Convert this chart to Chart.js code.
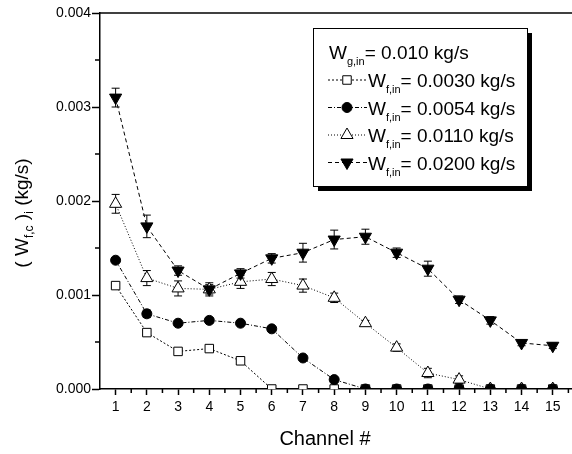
<!DOCTYPE html>
<html>
<head>
<meta charset="utf-8">
<script src="https://cdn.jsdelivr.net/npm/chart.js@4.4.0/dist/chart.umd.min.js"></script>
<style>
  html, body { margin: 0; padding: 0; background: #fff; overflow: hidden; }
  #wrap { width: 592px; height: 454px; }
</style>
</head>
<body>
<div id="wrap"><canvas id="chart" width="592" height="454"></canvas></div>
<script>
// channel numbers and axis ticks
const channels = [1, 2, 3, 4, 5, 6, 7, 8, 9, 10, 11, 12, 13, 14, 15];
const yTicks = [0, 0.001, 0.002, 0.003, 0.004];

// legend text
const inletGasLabel = "0.010 kg/s";
const feedLabels = ["0.0030 kg/s", "0.0054 kg/s", "0.0110 kg/s", "0.0200 kg/s"];

// series values (kg/s) and error bars
const feed0030 = [0.0011, 0.0006, 0.0004, 0.00043, 0.0003, 0, 0, 0, 0, 0, 0, 0, 0, 0, 0];
const feed0030Err = [0.00002, 0.00002, 0.00003, 0.00003, 0.00004, 0, 0, 0, 0, 0, 0, 0, 0, 0, 0];

const feed0054 = [0.00137, 0.0008, 0.0007, 0.00073, 0.0007, 0.00064, 0.00033, 0.0001, 0, 0, 0, 0, 0, 0, 0];
const feed0054Err = [0.00002, 0.00004, 0.00002, 0.00003, 0.00002, 0.00002, 0.00002, 0.00002, 0, 0, 0, 0, 0, 0, 0];

const feed0110 = [0.00197, 0.00118, 0.00107, 0.00106, 0.00114, 0.00117, 0.0011, 0.00097, 0.0007, 0.00044, 0.00017, 0.0001, 0, 0, 0];
const feed0110Err = [0.0001, 0.00008, 0.00008, 0.00005, 0.00007, 0.00007, 0.00007, 0.00005, 0.00003, 0.00004, 0.00005, 0.00004, 0, 0, 0];

const feed0200 = [0.0031, 0.00173, 0.00126, 0.00106, 0.00123, 0.00139, 0.00145, 0.00159, 0.00162, 0.00145, 0.00128, 0.00095, 0.00073, 0.00049, 0.00046];
const feed0200Err = [0.0001, 0.00012, 0.00005, 0.00007, 0.00005, 0.00005, 0.0001, 0.0001, 0.00008, 0.00005, 0.00008, 0.00004, 0.00004, 0.00003, 0.00003];

const FONT = "Arial, 'Liberation Sans', sans-serif";

// marker / line look for each series
const styles = [
  { marker: "rect",     fill: "#fff", radius: 6, dash: [2, 2],       order: 3 },
  { marker: "circle",   fill: "#000", radius: 5, dash: [4, 2, 1, 2], order: 1 },
  { marker: "triangle", fill: "#fff", radius: 7, dash: [1, 2],       order: 2 },
  { marker: "triDown",  fill: "#000", radius: 7, dash: [4, 3],       order: 0 }
];
const values = [feed0030, feed0054, feed0110, feed0200];
const errors = [feed0030Err, feed0054Err, feed0110Err, feed0200Err];

const datasets = values.map((vals, k) => ({
  label: feedLabels[k],
  data: channels.map((c, i) => ({ x: c, y: vals[i] })),
  borderColor: "#000",
  borderWidth: 1,
  borderDash: styles[k].dash,
  pointStyle: styles[k].marker === "triDown" ? "triangle" : styles[k].marker,
  pointRotation: styles[k].marker === "triDown" ? 180 : 0,
  pointRadius: styles[k].radius,
  pointBackgroundColor: styles[k].fill,
  pointBorderColor: "#000",
  pointBorderWidth: 1,
  order: styles[k].order,
  tension: 0
}));

function drawMarker(ctx, style, x, y) {
  const r = style.radius;
  ctx.save();
  ctx.setLineDash([]);
  ctx.lineWidth = 1;
  ctx.strokeStyle = "#000";
  ctx.fillStyle = style.fill;
  ctx.beginPath();
  if (style.marker === "rect") {
    const h = r * Math.SQRT1_2;
    ctx.rect(x - h, y - h, 2 * h, 2 * h);
  } else if (style.marker === "circle") {
    ctx.arc(x, y, r, 0, Math.PI * 2);
  } else {
    const s = style.marker === "triDown" ? -1 : 1;
    ctx.moveTo(x, y - s * r);
    ctx.lineTo(x + r * 0.866, y + s * r / 2);
    ctx.lineTo(x - r * 0.866, y + s * r / 2);
    ctx.closePath();
  }
  ctx.fill();
  ctx.stroke();
  ctx.restore();
}

// text with subscripts: parts = [[text, isSub], ...]
function richWidth(ctx, parts, size, subSize) {
  let w = 0;
  parts.forEach(([t, sub]) => {
    ctx.font = (sub ? subSize : size) + "px " + FONT;
    w += ctx.measureText(t).width;
  });
  return w;
}
function richText(ctx, parts, x, y, size, subSize, subDy) {
  parts.forEach(([t, sub]) => {
    ctx.font = (sub ? subSize : size) + "px " + FONT;
    ctx.fillText(t, x, y + (sub ? subDy : 0));
    x += ctx.measureText(t).width;
  });
}

const decor = {
  id: "decor",
  beforeDatasetsDraw(chart) {
    const { ctx, scales: { x, y } } = chart;
    ctx.save();
    ctx.strokeStyle = "#000";
    ctx.lineWidth = 1;
    errors.forEach((errs, k) => {
      channels.forEach((c, i) => {
        const e = errs[i];
        if (!e) return;
        const px = x.getPixelForValue(c);
        const top = y.getPixelForValue(values[k][i] + e);
        const bot = y.getPixelForValue(Math.max(values[k][i] - e, 0));
        ctx.beginPath();
        ctx.moveTo(px, top); ctx.lineTo(px, bot);
        ctx.moveTo(px - 4, top); ctx.lineTo(px + 4, top);
        ctx.moveTo(px - 4, bot); ctx.lineTo(px + 4, bot);
        ctx.stroke();
      });
    });
    ctx.restore();
  },
  afterDraw(chart) {
    const { ctx, chartArea: a, scales: { x, y } } = chart;
    ctx.save();
    ctx.strokeStyle = "#000";
    ctx.fillStyle = "#000";

    // top frame line
    ctx.lineWidth = 1.5;
    ctx.beginPath();
    ctx.moveTo(a.left, a.top);
    ctx.lineTo(a.right, a.top);
    ctx.stroke();

    // minor ticks
    ctx.lineWidth = 1.5;
    ctx.beginPath();
    for (let i = 0; i < channels.length; i++) {
      const px = x.getPixelForValue(channels[i] + 0.5);
      ctx.moveTo(px, a.bottom); ctx.lineTo(px, a.bottom + 4);
    }
    for (let i = 0; i < yTicks.length - 1; i++) {
      const py = y.getPixelForValue((yTicks[i] + yTicks[i + 1]) / 2);
      ctx.moveTo(a.left, py); ctx.lineTo(a.left - 5, py);
    }
    ctx.stroke();

    // legend box with drop shadow
    const lx = 313, ly = 28, lw = 214, lh = 158;
    ctx.fillRect(lx + 5, ly + 5, lw, lh);
    ctx.fillStyle = "#fff";
    ctx.fillRect(lx, ly, lw, lh);
    ctx.lineWidth = 1;
    ctx.strokeRect(lx + 0.5, ly + 0.5, lw, lh);
    ctx.fillStyle = "#000";
    ctx.textBaseline = "alphabetic";
    ctx.textAlign = "left";
    richText(ctx, [["W", false], ["g,in", true], ["= " + inletGasLabel, false]], 329, 59, 19, 11, 6);
    feedLabels.forEach((lab, k) => {
      const base = 87 + k * 27.5;
      const my = base - 7;
      ctx.save();
      ctx.setLineDash(styles[k].dash);
      ctx.lineWidth = 1;
      ctx.beginPath();
      ctx.moveTo(328, my); ctx.lineTo(367, my);
      ctx.stroke();
      ctx.restore();
      drawMarker(ctx, styles[k], 347, my);
      richText(ctx, [["W", false], ["f,in", true], ["= " + lab, false]], 368, base, 19, 11, 6);
    });

    // y title, rotated
    const yParts = [["( W", false], ["f,c", true], [" )", false], ["i", true], [" (kg/s)", false]];
    const tw = richWidth(ctx, yParts, 19, 12);
    ctx.translate(28, 213 + tw / 2);
    ctx.rotate(-Math.PI / 2);
    richText(ctx, yParts, 0, 0, 19, 12, 5);
    ctx.setTransform(1, 0, 0, 1, 0, 0);

    // x title
    ctx.font = "20px " + FONT;
    ctx.textAlign = "center";
    ctx.fillText("Channel #", 325, 445);
    ctx.restore();
  }
};

new Chart(document.getElementById("chart"), {
  type: "line",
  data: { datasets },
  options: {
    responsive: false,
    animation: false,
    layout: { padding: { top: 13, left: 0, right: 0, bottom: 0 } },
    plugins: { legend: { display: false }, tooltip: { enabled: false } },
    scales: {
      x: {
        type: "linear",
        min: 0.5,
        max: 16,
        afterBuildTicks: s => { s.ticks = channels.map(v => ({ value: v })); },
        afterFit: s => { s.height = 65; },
        grid: { drawOnChartArea: false, tickLength: 6, tickColor: "#000", tickWidth: 1.5 },
        border: { color: "#000", width: 1.5 },
        ticks: { color: "#000", font: { family: FONT, size: 14 }, padding: 4, maxRotation: 0, autoSkip: false, callback: v => v }
      },
      y: {
        min: 0,
        max: 0.004,
        afterBuildTicks: s => { s.ticks = yTicks.map(v => ({ value: v })); },
        afterFit: s => { s.width = 100; },
        grid: { drawOnChartArea: false, tickLength: 8, tickColor: "#000", tickWidth: 1.5 },
        border: { color: "#000", width: 1.5 },
        ticks: { color: "#000", font: { family: FONT, size: 14 }, padding: 1, callback: v => v.toFixed(3) }
      }
    }
  },
  plugins: [decor]
});
</script>
</body>
</html>
